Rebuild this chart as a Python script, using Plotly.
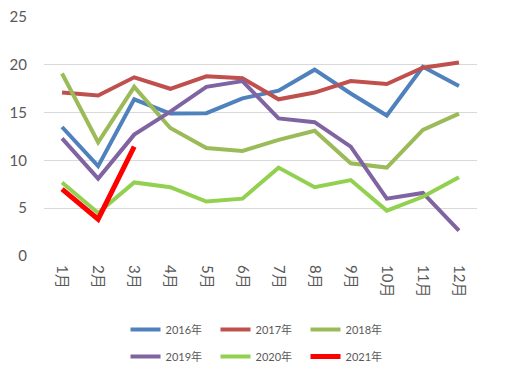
import plotly.graph_objects as go

months = ["1月", "2月", "3月", "4月", "5月", "6月", "7月", "8月", "9月", "10月", "11月", "12月"]

y2016 = [13.5, 9.4, 16.4, 14.9, 14.95, 16.5, 17.3, 19.5, 17.0, 14.7, 19.8, 17.8]
y2017 = [17.1, 16.8, 18.7, 17.5, 18.8, 18.6, 16.4, 17.1, 18.3, 18.0, 19.7, 20.25]
y2018 = [19.1, 11.9, 17.7, 13.4, 11.3, 11.0, 12.15, 13.1, 9.7, 9.25, 13.2, 14.9]
y2019 = [12.3, 8.1, 12.7, 15.1, 17.7, 18.3, 14.4, 14.0, 11.45, 6.0, 6.6, 2.65]
y2020 = [7.7, 4.5, 7.7, 7.2, 5.7, 6.0, 9.25, 7.2, 7.95, 4.75, 6.2, 8.25]
y2021 = [7.0, 3.85, 11.45]

series = [
    ("2016年", y2016, "#4F81BD", 4, "legend"),
    ("2017年", y2017, "#C0504D", 4, "legend"),
    ("2018年", y2018, "#9BBB59", 4, "legend"),
    ("2019年", y2019, "#8064A2", 4, "legend2"),
    ("2020年", y2020, "#92D050", 4, "legend2"),
    ("2021年", y2021, "#FF0000", 5, "legend2"),
]

FONT = "Lato, 'Noto Sans CJK SC', sans-serif"
W, H = 500, 368  # page body has an 8px margin

fig = go.Figure()
for name, ys, color, w, lg in series:
    fig.add_trace(go.Scatter(
        x=months[:len(ys)], y=ys, name=name, mode="lines",
        line=dict(color=color, width=w), legend=lg,
    ))

legend_common = dict(
    orientation="h", xanchor="center", x=0.505, xref="container",
    yanchor="top", yref="container",
    font=dict(family=FONT, size=11, color="#595959"),
    bgcolor="rgba(0,0,0,0)", entrywidth=45, traceorder="normal",
)

fig.update_layout(
    width=W, height=H,
    margin=dict(l=36, r=31, t=9, b=120, autoexpand=False),
    paper_bgcolor="white", plot_bgcolor="white",
    font=dict(family=FONT, color="#595959"),
    showlegend=True,
    legend=dict(**legend_common, y=1 - 307 / H),
    legend2=dict(**legend_common, y=1 - 334 / H),
    xaxis=dict(
        type="category", range=[-0.5, 11.5], tickangle=90, automargin=False,
        showgrid=False, showline=False, zeroline=False, ticks="",
        tickfont=dict(family=FONT, size=15, color="#595959"),
        ticklabelstandoff=8,
    ),
    yaxis=dict(
        range=[0, 25.01], tickvals=[0, 5, 10, 15, 20, 25],
        showgrid=True, gridcolor="#D9D9D9", gridwidth=1,
        zeroline=False, showline=False, ticks="", automargin=False,
        tickfont=dict(family=FONT, size=15, color="#595959"),
        ticklabelstandoff=16, ticklabeloverflow="allow",
    ),
)

fig.write_html("out.html")
